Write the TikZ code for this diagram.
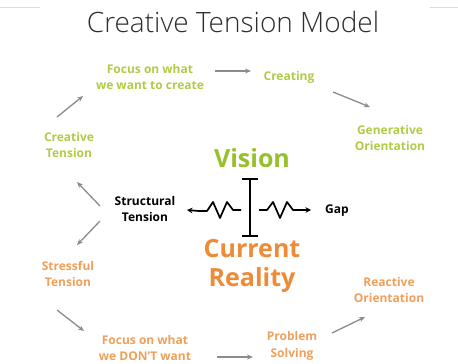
\documentclass[tikz,border=0pt]{standalone}
\usepackage{fontspec}
\setmainfont{Open Sans}
\IfFontExistsTF{Open Sans Light}{\newfontfamily\titlefont{Open Sans Light}}{\newfontfamily\titlefont{Open Sans}}
\usetikzlibrary{arrows.meta,calc}
\definecolor{lgreen}{HTML}{B0CC45}
\definecolor{dgreen}{HTML}{98BF2C}
\definecolor{lorange}{HTML}{EFA05A}
\definecolor{dorange}{HTML}{EE8B36}
\definecolor{arrowgray}{HTML}{8C8C8C}
\definecolor{titlegray}{HTML}{2E2E2E}
\tikzset{
  lbl/.style={font=\fontsize{12}{16.5}\selectfont\bfseries, align=center, inner sep=0pt},
  glbl/.style={lbl, text=lgreen},
  olbl/.style={lbl, text=lorange},
  cyc/.style={draw=arrowgray, line width=1.3pt, -{Stealth[length=6pt,width=5pt]}},
  blk/.style={draw=black, line width=1.7pt},
  blkarr/.style={blk, -{Stealth[length=5.5pt,width=5.5pt]}},
  big/.style={font=\fontsize{25}{29}\selectfont\bfseries, align=center, inner sep=0pt}
}
\begin{document}
\begin{tikzpicture}[x=1pt,y=-1pt]
\useasboundingbox[fill=white] (0,0) rectangle (458,364);
\draw[red!20, line width=0.6pt] (0,7) -- (40,7) (430,7) -- (458,7);
\node[font=\titlefont\fontsize{28}{32}\selectfont, text=titlegray, inner sep=0pt] (title) at (233,22) {Creative Tension Model};

% cycle labels
\node[glbl] (focuswant) at (150,77) {Focus on what\\we want to create};
\node[glbl] (creating) at (289,77) {Creating};
\node[glbl] (generative) at (390,138) {Generative\\Orientation};
\node[glbl] (creative) at (69,145) {Creative\\Tension};
\node[olbl] (stressful) at (68,274) {Stressful\\Tension};
\node[olbl] (focusdont) at (145,348) {Focus on what\\we DON'T want};
\node[olbl] (problem) at (292,346) {Problem\\Solving};
\node[olbl] (reactive) at (389,290) {Reactive\\Orientation};

% center
\node[big, text=dgreen] (vision) at (252,158) {Vision};
\node[big, text=dorange] (reality) at (252,266) {Current\\Reality};
\node[lbl, text=black] (structural) at (145,209) {Structural\\Tension};
\node[lbl, text=black] (gap) at (337,211) {Gap};

% cycle arrows
\coordinate (a1s) at (215,71); \coordinate (a1e) at (251,71);
\coordinate (a2s) at (333,92); \coordinate (a2e) at (370,107);
\coordinate (a3s) at (57,117); \coordinate (a3e) at (83,96);
\coordinate (a4s) at (100,206); \coordinate (a4e) at (77,182);
\coordinate (a5s) at (100,221); \coordinate (a5e) at (77,245);
\coordinate (a6s) at (57,310); \coordinate (a6e) at (84,331);
\coordinate (a7s) at (217,357); \coordinate (a7e) at (253,357);
\coordinate (a8s) at (332,333); \coordinate (a8e) at (365,317);
\draw[cyc] (a1s) -- (a1e);
\draw[cyc] (a2s) -- (a2e);
\draw[cyc] (a3s) -- (a3e);
\draw[cyc] (a4s) -- (a4e);
\draw[cyc] (a5s) -- (a5e);
\draw[cyc] (a6s) -- (a6e);
\draw[cyc] (a7s) -- (a7e);
\draw[cyc] (a8s) -- (a8e);

% I-beam
\coordinate (ibt) at (250,179); \coordinate (ibb) at (250,236);
\draw[blk] (ibt) -- (ibb);
\draw[blk] ($(ibt)+(-8,0)$) -- ($(ibt)+(8,0)$);
\draw[blk] ($(ibb)+(-8,0)$) -- ($(ibb)+(8,0)$);

% springs
\coordinate (ls) at (241,210); \coordinate (le) at (187,210);
\coordinate (rs) at (259,210); \coordinate (re) at (311,210);
\draw[blkarr, line join=round] (ls) -- (233,210) -- (227,202) -- (220,218) -- (213,202) -- (207,211) -- (199,211) -- (le);
\draw[blkarr, line join=round] (rs) -- (267,210) -- (273,202) -- (280,218) -- (287,202) -- (293,210) -- (re);
\end{tikzpicture}
\end{document}
